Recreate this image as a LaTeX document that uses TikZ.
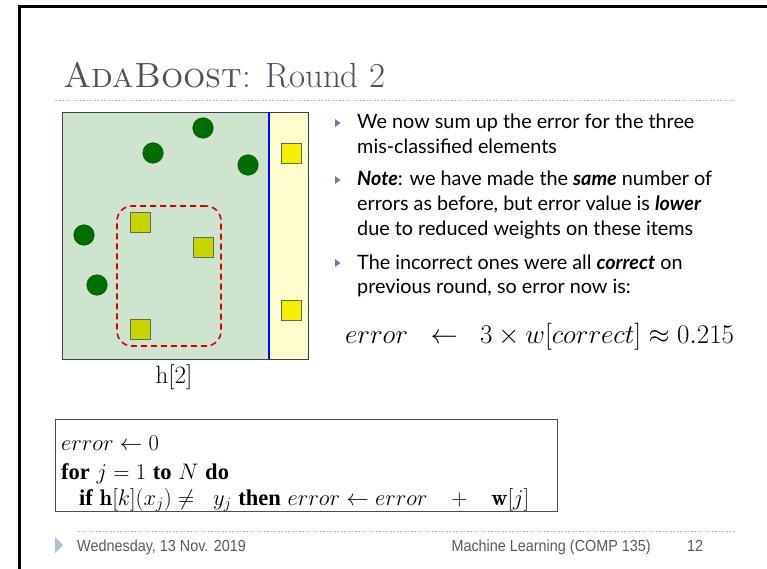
\RequirePackage{fix-cm}
\documentclass[tikz,border=0pt]{standalone}
\usepackage{amsmath,amssymb,graphicx}
\usepackage{fontspec}
\newfontfamily\gillfont{Lato}
\newfontfamily\arialfont{Liberation Sans}
\newfontfamily\timesfont{Liberation Serif}
\definecolor{slgreen}{RGB}{207,228,206}
\definecolor{slyellow}{RGB}{255,252,206}
\definecolor{dotgreen}{RGB}{0,110,0}
\definecolor{sqolive}{RGB}{200,214,0}
\definecolor{sqyellow}{RGB}{245,240,0}
\definecolor{rulegray}{RGB}{170,190,215}
\definecolor{bulblue}{RGB}{110,122,172}
\definecolor{titlegray}{RGB}{80,80,92}
\usetikzlibrary{positioning}
\newcommand\kw[1]{{\timesfont\bfseries #1}}
\newcommand\narrow[1]{\scalebox{0.9}[1]{#1}}
\tikzset{
  dot/.style={circle, draw=dotgreen!60!black, fill=dotgreen, minimum size=20.6pt, inner sep=0pt},
  sqbox/.style={draw=black!60, fill=#1, minimum size=20pt, inner sep=0pt},
  errloop/.style={draw=red!85!black, dash pattern=on 6pt off 4pt, line width=1.6pt,
                  rounded corners=15pt, minimum width=104pt, minimum height=140pt},
  bul/.style={anchor=base west, inner sep=0pt, font=\gillfont\fontsize{19.8}{24}\selectfont},
  algo/.style={anchor=base west, inner sep=0pt, font=\fontsize{22.5}{26}\selectfont},
  foot/.style={anchor=base west, inner sep=0pt, font=\arialfont\fontsize{16}{18}\selectfont,
               text=black!65},
  dotrule/.style={draw=rulegray, dash pattern=on 2pt off 1.5pt, line width=0.9pt},
}
\begin{document}
\begin{tikzpicture}[x=1pt, y=-1pt]
  \useasboundingbox (0,0) rectangle (767,569);
  % Slide frame
  \draw[line width=3pt] (19,569) -- (19,7) -- (767,7);
  % Title
  \node[anchor=base west, inner sep=0pt, text=titlegray,
        font=\fontsize{35}{42}\selectfont] (title) at (63,88) {\textsc{AdaBoost}: Round 2};
  \draw[dotrule] (55,100) -- (735,100);

  % Hypothesis panel
  \fill[slgreen] (62,112) rectangle (269,359);
  \fill[slyellow] (269,112) rectangle (308,359);
  \draw[black!75, line width=0.8pt] (62,112) rectangle (308,359);
  \draw[blue, line width=2.4pt] (269,112) -- (269,359);
  \node[dot] (c1) at (203,128) {};
  \node[dot] (c2) at (153,153) {};
  \node[dot] (c3) at (248,165) {};
  \node[dot] (c4) at (84,235) {};
  \node[dot] (c5) at (97,285) {};
  \node[sqbox=sqolive] (s1) at (140,222) {};
  \node[sqbox=sqolive] (s2) at (203,247) {};
  \node[sqbox=sqolive] (s3) at (140,329) {};
  \node[sqbox=sqyellow] (y1) at (291,153) {};
  \node[sqbox=sqyellow] (y2) at (291,310) {};
  \node[errloop] (miss) at (169,276) {};
  \node[font=\fontsize{25}{30}\selectfont] (hlabel) at (174,377) {h[2]};

  % Bullets
  \foreach \y in {123,180,263}
    \fill[bulblue] (335,\y-4) -- (340.5,\y) -- (335,\y+4) -- cycle;
  \node[bul] (t1) at (357,129) {We now sum up the error for the three};
  \node[bul] (t2) at (357,154) {mis-classified elements};
  \node[bul] (t3) at (357,186) {\textbf{\textit{Note}}: we have made the \textbf{\textit{same}} number of};
  \node[bul] (t4) at (357,211) {errors as before, but error value is \textbf{\textit{lower}}};
  \node[bul] (t5) at (357,235) {due to reduced weights on these items};
  \node[bul] (t6) at (357,269) {The incorrect ones were all \textbf{\textit{correct}} on};
  \node[bul] (t7) at (357,293) {previous round, so error now is:};
  \node[anchor=base west, inner sep=0pt, font=\fontsize{27}{32}\selectfont] (eq) at (345,343)
    {$error\;\;\leftarrow\;\;3\times w[correct]\approx 0.215$};

  % Algorithm box
  \draw[black!70, line width=0.8pt] (55,419) rectangle (557,511);
  \node[algo] (a1) at (61,450) {$error \leftarrow 0$};
  \node[algo] (a2) at (61,479) {\kw{for} $j = 1$ \kw{to} $N$ \kw{do}};
  \node[algo] (a3) at (79,505)
    {\kw{if} $\mathbf{h}[k](x_j) \neq\;\; y_j$ \kw{then} $error \leftarrow error \;\;\;+\;\;\; \mathbf{w}[j]$};

  % Footer
  \draw[dotrule] (78,531) -- (735,531);
  \fill[rulegray] (55,537) -- (63,545) -- (55,553) -- cycle;
  \node[foot] (date) at (77,551) {\narrow{Wednesday, 13 Nov. 2019}};
  \node[foot, anchor=base east] (course) at (651,551) {\narrow{Machine Learning (COMP 135)}};
  \node[foot] (page) at (687,551) {\narrow{12}};
\end{tikzpicture}
\end{document}
